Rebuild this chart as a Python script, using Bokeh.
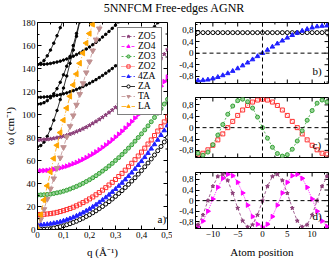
import math
from bokeh.plotting import figure
from bokeh.models import (FixedTicker, CustomJSTickFormatter, Span, Label,
                          Div, Range1d, Legend, LegendItem)
from bokeh.layouts import row, column
from bokeh.embed import file_html
from bokeh.resources import INLINE

FONT = "Liberation Serif"

# ---------------- data: panel a (dispersion) ----------------
q = [0.0, 0.0125, 0.025, 0.0375, 0.05, 0.0625, 0.075, 0.0875, 0.1, 0.1125, 0.125, 0.1375,
     0.15, 0.1625, 0.175, 0.1875, 0.2, 0.2125, 0.225, 0.2375, 0.25, 0.2625, 0.275, 0.2875,
     0.3, 0.3125, 0.325, 0.3375, 0.35, 0.3625, 0.375, 0.3875, 0.4, 0.4125, 0.425, 0.4375,
     0.45, 0.4625, 0.475, 0.4875, 0.5]

w_za = [0.0, 0.1, 0.2, 0.5, 0.8, 1.3, 1.8, 2.5, 3.2, 4.1, 5.0, 6.1, 7.2, 8.5, 9.8, 11.3, 12.8,
        14.5, 16.2, 18.1, 20.0, 22.1, 24.2, 26.5, 28.8, 31.3, 33.8, 36.5, 39.2, 42.1, 45.0,
        48.1, 51.2, 54.5, 57.8, 61.3, 64.8, 68.5, 72.2, 76.1, 80.0]
w_4za = [4.0, 4.1, 4.2, 4.5, 4.9, 5.4, 5.9, 6.6, 7.5, 8.4, 9.4, 10.5, 11.8, 13.1, 14.6, 16.2,
         17.8, 19.6, 21.5, 23.5, 25.6, 27.8, 30.1, 32.6, 35.1, 37.8, 40.5, 43.4, 46.3, 49.4,
         52.6, 55.9, 59.3, 62.8, 66.4, 70.2, 74.0, 77.9, 82.0, 86.1, 90.4]
w_zo2 = [13.0, 13.1, 13.2, 13.5, 13.8, 14.3, 14.9, 15.6, 16.4, 17.3, 18.3, 19.4, 20.6, 22.0,
         23.4, 24.9, 26.6, 28.3, 30.2, 32.1, 34.2, 36.4, 38.7, 41.0, 43.5, 46.1, 48.8, 51.6,
         54.6, 57.6, 60.7, 63.9, 67.3, 70.7, 74.3, 77.9, 81.7, 85.6, 89.5, 93.6, 97.8]
w_zo3 = [30.0, 30.1, 30.2, 30.5, 30.8, 31.3, 31.9, 32.5, 33.3, 34.2, 35.2, 36.3, 37.5, 38.8,
         40.2, 41.7, 43.3, 45.0, 46.8, 48.8, 50.8, 52.9, 55.2, 57.5, 60.0, 62.5, 65.2, 67.9,
         70.8, 73.7, 76.8, 80.0, 83.2, 86.6, 90.1, 93.7, 97.4, 101.2, 105.1, 109.1, 113.2]
w_zo4 = [51.0, 51.1, 51.2, 51.5, 51.8, 52.3, 52.8, 53.5, 54.3, 55.1, 56.1, 57.2, 58.3, 59.6,
         61.0, 62.5, 64.1, 65.7, 67.5, 69.4, 71.4, 73.5, 75.7, 78.0, 80.4, 82.9, 85.5, 88.2,
         91.0, 93.9, 96.9, 100.0, 103.2, 106.5, 110.0, 113.5, 117.1, 120.8, 124.6, 128.6, 132.6]
w_zo5 = [78.0, 78.0, 78.2, 78.4, 78.8, 79.2, 79.8, 80.4, 81.1, 82.0, 82.9, 83.9, 85.1, 86.3,
         87.6, 89.0, 90.5, 92.2, 93.9, 95.7, 97.6, 99.6, 101.7, 103.9, 106.2, 108.6, 111.1,
         113.7, 116.4, 119.2, 122.1, 125.1, 128.2, 131.4, 134.6, 138.0, 141.5, 145.1, 148.8,
         152.5, 156.4]
w_ta = [0.0, 8.8, 17.6, 26.5, 35.4, 44.3, 53.3, 62.4, 71.5, 80.6, 89.8, 99.1, 108.4, 117.7,
        127.1, 136.5, 146.0, 155.5, 165.1, 174.7, 184.4]
w_la = [0.0, 13.0, 25.6, 38.0, 50.0, 61.8, 73.2, 84.3, 95.1, 105.6, 115.8, 125.7, 135.2,
        144.5, 153.4, 162.1, 170.4, 178.4, 186.1]
# higher black branches
w_b1 = [143.5, 143.6, 143.7, 144.0, 144.4, 145.0, 145.6, 146.4, 147.3, 148.3, 149.4, 150.7,
        152.1, 153.5, 155.1, 156.9, 158.7, 160.7, 162.7, 164.9, 167.3, 169.7, 172.2, 174.9,
        177.7, 180.6, 183.6]
w_b2 = [115.0, 115.0, 115.2, 115.4, 115.8, 116.2, 116.7, 117.3, 118.0, 118.8, 119.7, 120.7,
        121.8, 123.0, 124.3, 125.7, 127.1, 128.7, 130.3, 132.1, 133.9, 135.9, 137.9, 140.0,
        142.3, 144.6, 147.0, 149.5, 152.1, 154.8, 157.6, 160.5, 163.5, 166.6, 169.7, 173.0,
        176.4, 179.8, 183.4]
w_s1 = [143.5, 144.5, 147.0, 151.0, 156.0, 162.0, 168.5, 175.5, 183.0]
w_s2 = [109.0, 109.3, 110.3, 112.0, 114.5, 118.0, 122.5, 128.0, 134.5, 142.0, 150.5, 160.0,
        170.5, 182.0]
w_s3 = [72.0, 73.0, 76.0, 81.0, 87.5, 95.0, 103.5, 113.0, 123.0, 133.5, 144.5, 156.0, 168.0,
        180.5]

# ---------------- data: panels b, c, d (eigenvectors) ----------------
atom = [-13, -12, -11, -10, -9, -8, -7, -6, -5, -4, -3, -2, -1, 0, 1, 2, 3, 4, 5, 6, 7, 8, 9,
        10, 11, 12, 13]
b_za = [0.71, 0.71, 0.71, 0.71, 0.71, 0.71, 0.71, 0.71, 0.71, 0.71, 0.71, 0.71, 0.71, 0.71,
        0.71, 0.71, 0.71, 0.71, 0.71, 0.71, 0.71, 0.71, 0.71, 0.71, 0.71, 0.71, 0.71]
b_4za = [-0.95, -0.94, -0.92, -0.88, -0.83, -0.77, -0.70, -0.62, -0.53, -0.43, -0.33, -0.22,
         -0.11, 0.0, 0.11, 0.22, 0.33, 0.43, 0.53, 0.62, 0.70, 0.77, 0.83, 0.88, 0.92, 0.94, 0.95]
c_zo3 = [-0.90, -0.97, -0.86, -0.60, -0.26, 0.11, 0.47, 0.76, 0.95, 1.00, 0.91, 0.69, 0.37,
         0.0, -0.37, -0.69, -0.91, -1.00, -0.95, -0.76, -0.47, -0.11, 0.26, 0.60, 0.86, 0.97, 0.90]
c_zo2 = [-0.93, -0.90, -0.78, -0.62, -0.43, -0.22, 0.0, 0.22, 0.43, 0.62, 0.78, 0.90, 0.97,
         1.0, 0.97, 0.90, 0.78, 0.62, 0.43, 0.22, 0.0, -0.22, -0.43, -0.62, -0.78, -0.90, -0.93]
d_zo4 = [-0.97, -0.77, -0.40, 0.06, 0.50, 0.84, 0.99, 0.94, 0.69, 0.29, -0.17, -0.60, -0.89,
         -1.0, -0.89, -0.60, -0.17, 0.29, 0.69, 0.94, 0.99, 0.84, 0.50, 0.06, -0.40, -0.77, -0.97]
d_zo5 = [-0.91, -0.54, 0.0, 0.54, 0.91, 0.99, 0.76, 0.28, -0.28, -0.76, -0.99, -0.91, -0.54,
         0.0, 0.54, 0.91, 0.99, 0.76, 0.28, -0.28, -0.76, -0.99, -0.91, -0.54, 0.0, 0.54, 0.91]

# ---------------- tick definitions ----------------
qa_ticks = [0, 0.1, 0.2, 0.3, 0.4, 0.5]
qa_minor = [0.05, 0.15, 0.25, 0.35, 0.45]
wa_ticks = [0, 20, 40, 60, 80, 100, 120, 140, 160, 180]
wa_minor = [10, 30, 50, 70, 90, 110, 130, 150, 170]
pos_ticks = [-10, -5, 0, 5, 10]
pos_minor = [-12.5, -7.5, -2.5, 2.5, 7.5, 12.5]
amp_ticks = [-0.8, -0.4, 0, 0.4, 0.8]
amp_minor = [-1.0, -0.6, -0.2, 0.2, 0.6, 1.0]

C_ZO5 = "#8B3D78"
C_ZO4 = "#ff00ff"
C_ZO3 = "#33a033"
C_ZO2 = "#ff3030"
C_4ZA = "#2020ff"
C_TA = "#c09090"
C_LA = "#ffa500"

comma_fmt = CustomJSTickFormatter(code="""
if (Math.abs(tick) < 1e-9) { return '0'; }
return tick.toFixed(1).replace('.', ',');
""")


def style_axis(ax, ticker, fmt=None):
    ax.ticker = ticker
    if fmt is not None:
        ax.formatter = fmt
    ax.major_tick_in = 4
    ax.major_tick_out = 0
    ax.minor_tick_in = 2
    ax.minor_tick_out = 0
    ax.axis_line_color = "black"
    ax.major_tick_line_color = "black"
    ax.minor_tick_line_color = "black"
    ax.major_label_text_font = FONT
    ax.major_label_text_color = "black"
    ax.major_label_text_font_size = "9px"
    ax.major_label_standoff = 2
    ax.axis_label_text_font = FONT
    ax.axis_label_text_font_style = "normal"
    ax.axis_label_text_font_size = "11px"
    ax.axis_label_text_color = "black"


def edge_ticks(p, xr, yr, xt, xm, yt, ym, bottom=False):
    # mirrored tick marks on the top / right (and optionally bottom) frame edges
    kw = dict(length_units="screen", line_color="black", line_width=1)
    p.ray(x=xt, y=[yr.end] * len(xt), length=4, angle=-math.pi / 2, **kw)
    p.ray(x=xm, y=[yr.end] * len(xm), length=2, angle=-math.pi / 2, **kw)
    p.ray(x=[xr.end] * len(yt), y=yt, length=4, angle=math.pi, **kw)
    p.ray(x=[xr.end] * len(ym), y=ym, length=2, angle=math.pi, **kw)
    if bottom:
        p.ray(x=xt, y=[yr.start] * len(xt), length=4, angle=math.pi / 2, **kw)
        p.ray(x=xm, y=[yr.start] * len(xm), length=2, angle=math.pi / 2, **kw)


def make_fig(width, height, xr, yr, mb, xt, xm, yt, ym, xfmt=None, yfmt=None, show_x=True):
    p = figure(width=width, height=height, x_range=xr, y_range=yr, output_backend="svg",
               toolbar_location=None, min_border_left=mb[0], min_border_right=mb[1],
               min_border_top=mb[2], min_border_bottom=mb[3])
    p.xgrid.visible = False
    p.ygrid.visible = False
    p.outline_line_color = "black"
    p.background_fill_color = "white"
    p.border_fill_color = "white"
    style_axis(p.yaxis[0], FixedTicker(ticks=yt, minor_ticks=ym), yfmt)
    if show_x:
        style_axis(p.xaxis[0], FixedTicker(ticks=xt, minor_ticks=xm), xfmt)
    else:
        p.xaxis.visible = False
    edge_ticks(p, xr, yr, xt, xm, yt, ym, bottom=not show_x)
    return p


def tag(p, text, x, y, size="11px"):
    p.add_layout(Label(x=x, y=y, x_units="screen", y_units="screen", text=text,
                       text_font=FONT, text_font_size=size, text_color="black"))


# ---------------- panel a ----------------
pa = make_fig(172, 244, Range1d(0, 0.5), Range1d(0, 180), (32, 5, 6, 29),
              qa_ticks, qa_minor, wa_ticks, wa_minor, xfmt=comma_fmt)
pa.xaxis.axis_label = "q (\u00c5\u207b\u00b9)"
pa.xaxis.axis_label_standoff = 5
pa.yaxis.axis_label = "\u03c9 (cm\u207b\u00b9)"
pa.yaxis.axis_label_standoff = 3

for ws in (w_b1, w_b2, w_s1, w_s2, w_s3):
    pa.line(q[:len(ws)], ws, line_color="black", line_width=0.8)
    pa.scatter(q[:len(ws)], ws, marker="circle", size=2.5, line_color="black", fill_color="black")

items = []
l = pa.line(q, w_zo5, line_color=C_ZO5, line_width=0.8, line_dash="4 2")
s = pa.scatter(q, w_zo5, marker="star", size=4, line_color=C_ZO5, fill_color=C_ZO5)
items.append(LegendItem(label="ZO5", renderers=[l, s]))
l = pa.line(q, w_zo4, line_color=C_ZO4, line_width=0.8, line_dash="3 2")
s = pa.scatter(q, w_zo4, marker="triangle", angle=-math.pi / 2, size=4.5, line_color=C_ZO4,
               fill_color=C_ZO4)
items.append(LegendItem(label="ZO4", renderers=[l, s]))
l = pa.line(q, w_zo3, line_color=C_ZO3, line_width=0.8, line_dash="2 2")
s = pa.scatter(q, w_zo3, marker="circle", size=4, line_color=C_ZO3, fill_color="#9ad49a")
items.append(LegendItem(label="ZO3", renderers=[l, s]))
l = pa.line(q, w_zo2, line_color=C_ZO2, line_width=0.8, line_dash="1 1")
s = pa.scatter(q, w_zo2, marker="square", size=4, line_color=C_ZO2, fill_color=None)
items.append(LegendItem(label="ZO2", renderers=[l, s]))
l = pa.line(q, w_4za, line_color=C_4ZA, line_width=0.8, line_dash="4 2")
s = pa.scatter(q, w_4za, marker="triangle", size=4.5, line_color=C_4ZA, fill_color=C_4ZA)
items.append(LegendItem(label="4ZA", renderers=[l, s]))
l = pa.line(q, w_za, line_color="black", line_width=0.8)
s = pa.scatter(q, w_za, marker="circle", size=4, line_color="black", fill_color="white")
items.append(LegendItem(label="ZA", renderers=[l, s]))
l = pa.line(q[:len(w_ta)], w_ta, line_color=C_TA, line_width=0.8, line_dash="4 2")
s = pa.scatter(q[:len(w_ta)], w_ta, marker="inverted_triangle", size=5.5, line_color=C_TA,
               fill_color=C_TA)
items.append(LegendItem(label="TA", renderers=[l, s]))
l = pa.line(q[:len(w_la)], w_la, line_color=C_LA, line_width=0.8, line_dash="5 2 1 2")
s = pa.scatter(q[:len(w_la)], w_la, marker="triangle", angle=math.pi / 2, size=5.5,
               line_color=C_LA, fill_color=C_LA)
items.append(LegendItem(label="LA", renderers=[l, s]))

legend = Legend(items=items, location=(80, 114), border_line_color="black",
                border_line_width=1, background_fill_color="white", background_fill_alpha=1,
                label_text_font=FONT, label_text_font_size="9.5px", label_text_color="black",
                glyph_width=14, glyph_height=8, label_height=8, label_standoff=3,
                spacing=0, padding=3, margin=0)
pa.add_layout(legend)
tag(pa, "a)", 120, 5)

# ---------------- panels b, c, d ----------------
XR = (-13.5, 13.3)
YR = (-1.05, 1.06)


def eig_fig(height, mb, show_x):
    p = make_fig(158, height, Range1d(*XR), Range1d(*YR), mb, pos_ticks, pos_minor,
                 amp_ticks, amp_minor, yfmt=comma_fmt, show_x=show_x)
    p.add_layout(Span(location=0, dimension="width", line_color="black", line_width=1,
                      line_dash="4 3"))
    p.add_layout(Span(location=0, dimension="height", line_color="black", line_width=1,
                      line_dash="4 3"))
    return p


pb = eig_fig(74, (23, 2, 6, 7), False)
pb.line(atom, b_za, line_color="black", line_width=0.8)
pb.scatter(atom, b_za, marker="circle", size=4, line_color="black", fill_color="white")
pb.line(atom, b_4za, line_color=C_4ZA, line_width=0.8, line_dash="3 2")
pb.scatter(atom, b_4za, marker="triangle", size=4.5, line_color=C_4ZA, fill_color=C_4ZA)
tag(pb, "b)", 117, 7)

pc = eig_fig(74, (23, 2, 7, 7), False)
pc.line(atom, c_zo2, line_color=C_ZO2, line_width=0.8, line_dash="1 1")
pc.scatter(atom, c_zo2, marker="square", size=4, line_color=C_ZO2, fill_color=None)
pc.line(atom, c_zo3, line_color=C_ZO3, line_width=0.8, line_dash="2 2")
pc.scatter(atom, c_zo3, marker="circle", size=4, line_color=C_ZO3, fill_color="#9ad49a")
tag(pc, "c)", 117, 7)

pd = eig_fig(96, (23, 2, 8, 28), True)
pd.xaxis.axis_label = "Atom position"
pd.xaxis.axis_label_standoff = 6
pd.line(atom, d_zo4, line_color=C_ZO4, line_width=0.8, line_dash="1 1")
pd.scatter(atom, d_zo4, marker="triangle", angle=-math.pi / 2, size=4.5, line_color=C_ZO4,
           fill_color=C_ZO4)
pd.line(atom, d_zo5, line_color=C_ZO5, line_width=0.8, line_dash="3 2")
pd.scatter(atom, d_zo5, marker="star", size=4, line_color=C_ZO5, fill_color=C_ZO5)
tag(pd, "d)", 117, 7)

title = Div(text=("<div style=\"width:330px;height:16px;box-sizing:border-box;"
                  "padding-left:18px;text-align:center;font-family:'Liberation Serif';"
                  "font-size:12px;line-height:16px;color:black;white-space:nowrap;\">"
                  "5NNFCM Free-edges AGNR</div>"),
            width=330, height=16, margin=0)

layout = column(title, row(pa, column(pb, pc, pd, spacing=0), spacing=0), spacing=0)

open("out.html", "w").write(file_html(layout, INLINE))
